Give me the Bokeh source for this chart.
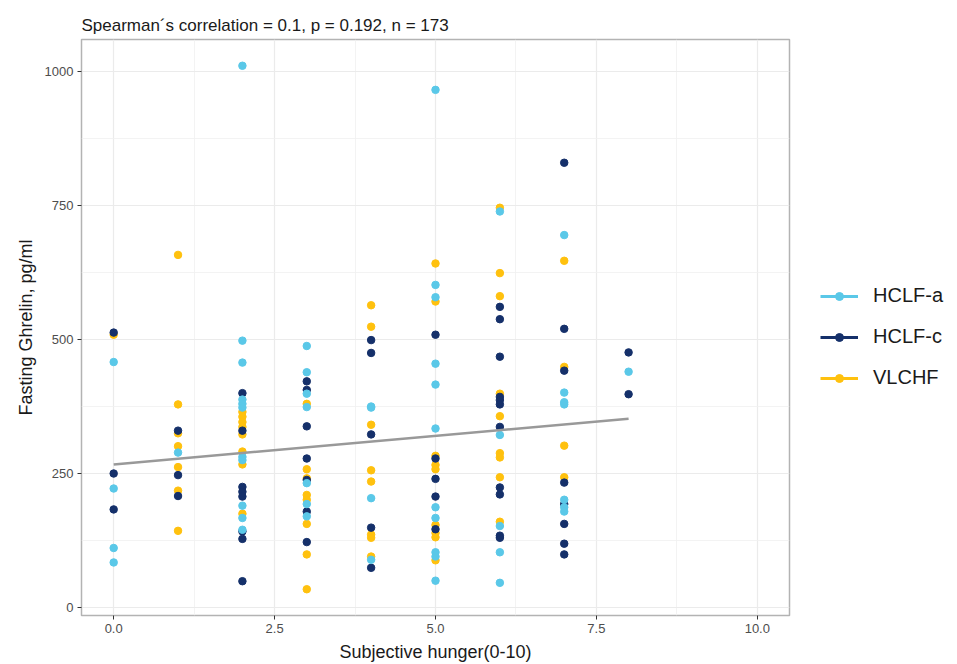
from bokeh.plotting import figure
from bokeh.models import Legend, LegendItem, FixedTicker, Range1d
from bokeh.embed import file_html
from bokeh.resources import INLINE

# ---- data ----
groups = ["HCLF-a", "HCLF-c", "VLCHF"]
group_colors = ["#5AC8E8", "#15306A", "#FFC10E"]

hclf_a_x = [0, 0, 0, 0,
            1,
            2, 2, 2, 2, 2, 2, 2, 2, 2, 2, 2,
            3, 3, 3, 3, 3, 3, 3,
            4, 4, 4, 4,
            5, 5, 5, 5, 5, 5, 5, 5, 5, 5, 5,
            6, 6, 6, 6, 6,
            7, 7, 7, 7, 7, 7, 7,
            8]
hclf_a_y = [458, 222, 111, 84,
            289,
            1011, 498, 457, 388, 380, 373, 281, 275, 190, 167, 145,
            488, 439, 399, 374, 232, 193, 170,
            375, 373, 204, 89,
            966, 602, 579, 455, 416, 334, 187, 167, 103, 95, 50,
            739, 322, 152, 103, 46,
            695, 401, 383, 379, 201, 187, 179,
            440]

hclf_c_x = [0, 0, 0,
            1, 1, 1,
            2, 2, 2, 2, 2, 2, 2, 2,
            3, 3, 3, 3, 3, 3, 3,
            4, 4, 4, 4, 4,
            5, 5, 5, 5, 5,
            6, 6, 6, 6, 6, 6, 6, 6, 6, 6, 6,
            7, 7, 7, 7, 7, 7, 7, 7,
            8, 8]
hclf_c_y = [513, 250, 183,
            330, 247, 208,
            400, 330, 225, 216, 207, 142, 128, 49,
            422, 406, 338, 278, 238, 179, 122,
            499, 475, 323, 149, 74,
            509, 278, 240, 207, 146,
            561, 538, 468, 393, 387, 379, 337, 224, 211, 134, 130,
            830, 520, 442, 233, 193, 156, 119, 99,
            476, 398]

vlchf_x = [0,
           1, 1, 1, 1, 1, 1, 1,
           2, 2, 2, 2, 2, 2, 2, 2,
           3, 3, 3, 3, 3, 3, 3, 3,
           4, 4, 4, 4, 4, 4, 4, 4,
           5, 5, 5, 5, 5, 5, 5, 5, 5,
           6, 6, 6, 6, 6, 6, 6, 6, 6,
           7, 7, 7, 7]
vlchf_y = [509,
           658, 379, 325, 301, 262, 218, 143,
           365, 356, 346, 337, 323, 291, 267, 175,
           380, 258, 241, 210, 201, 156, 99, 34,
           564, 524, 341, 256, 235, 136, 130, 95,
           642, 571, 283, 266, 258, 154, 139, 131, 88,
           746, 624, 581, 399, 357, 288, 280, 243, 160,
           647, 449, 302, 243]

# fitted regression line (end points)
fit_x = [0, 8]
fit_y = [267, 352]

x_ticks = [0, 2.5, 5, 7.5, 10]
x_tick_labels = ["0.0", "2.5", "5.0", "7.5", "10.0"]
x_minor = [1.25, 3.75, 6.25, 8.75]
y_ticks = [0, 250, 500, 750, 1000]
y_tick_labels = ["0", "250", "500", "750", "1000"]
y_minor = [125, 375, 625, 875]

title_text = "Spearman\u00b4s correlation = 0.1, p = 0.192, n = 173"
x_label = "Subjective hunger(0-10)"
y_label = "Fasting Ghrelin, pg/ml"

FONT = "Liberation Sans"

p = figure(frame_width=708, frame_height=576,
           x_range=Range1d(-0.5, 10.5), y_range=Range1d(-15, 1060),
           output_backend="svg", toolbar_location=None,
           min_border_left=81, min_border_top=39, min_border_bottom=49,
           min_border_right=0, background_fill_color="white",
           border_fill_color="white")

p.title.text = title_text
p.title.text_font = FONT
p.title.text_font_size = "17px"
p.title.text_font_style = "normal"
p.title.text_color = "#1A1A1A"
p.title.align = "left"

p.outline_line_color = "#B3B3B3"
p.outline_line_width = 1.5

p.xaxis.ticker = FixedTicker(ticks=x_ticks, minor_ticks=x_minor)
p.yaxis.ticker = FixedTicker(ticks=y_ticks, minor_ticks=y_minor)
p.xaxis.major_label_overrides = dict(zip(x_ticks, x_tick_labels))
p.yaxis.major_label_overrides = dict(zip(y_ticks, y_tick_labels))

for ax in (p.xaxis[0], p.yaxis[0]):
    ax.axis_line_color = None
    ax.minor_tick_line_color = None
    ax.major_tick_line_color = "#333333"
    ax.major_tick_in = 0
    ax.major_tick_out = 4
    ax.major_label_text_font = FONT
    ax.major_label_text_font_size = "13px"
    ax.major_label_text_color = "#4D4D4D"
    ax.major_label_standoff = 4
    ax.axis_label_text_font = FONT
    ax.axis_label_text_font_size = "18px"
    ax.axis_label_text_font_style = "normal"
    ax.axis_label_text_color = "#1A1A1A"
    ax.axis_label_standoff = 6

p.xaxis.axis_label = x_label
p.yaxis.axis_label = y_label

for g in p.grid:
    g.grid_line_color = "#EBEBEB"
    g.grid_line_width = 1.2
    g.minor_grid_line_color = "#F0F0F0"
    g.minor_grid_line_width = 0.8

data = {
    "HCLF-a": (hclf_a_x, hclf_a_y),
    "HCLF-c": (hclf_c_x, hclf_c_y),
    "VLCHF": (vlchf_x, vlchf_y),
}
color_of = dict(zip(groups, group_colors))

scatter_r = {}
for g in ["VLCHF", "HCLF-c", "HCLF-a"]:
    xs, ys = data[g]
    scatter_r[g] = p.scatter(xs, ys, size=7.5, color=color_of[g], line_color=color_of[g])

p.line(fit_x, fit_y, line_color="#999999", line_width=2.5)

# legend key renderers: placed outside the visible ranges so only the key shows
items = []
for g in groups:
    lr = p.line([-20, -19], [-500, -500], line_color=color_of[g], line_width=3)
    sr = p.scatter([-20], [-500], size=9, color=color_of[g])
    items.append(LegendItem(label=g, renderers=[lr, sr]))

legend = Legend(items=items, location=(31, 226), orientation="vertical")
legend.margin = 0
legend.padding = 0
legend.border_line_color = None
legend.background_fill_alpha = 0
legend.glyph_width = 38
legend.glyph_height = 20
legend.label_standoff = 15
legend.label_height = 20
legend.spacing = 18
legend.label_text_font = FONT
legend.label_text_font_size = "20px"
legend.label_text_color = "#1A1A1A"
p.add_layout(legend, "right")

open("out.html", "w").write(file_html(p, INLINE))
